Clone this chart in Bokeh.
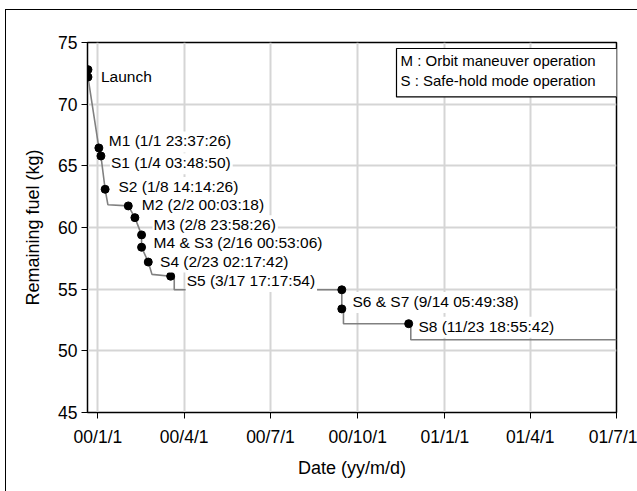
import pandas as pd
from bokeh.plotting import figure
from bokeh.models import ColumnDataSource, FixedTicker, Range1d, Label
from bokeh.core.properties import value
from bokeh.embed import file_html
from bokeh.resources import INLINE

EPOCH = pd.Timestamp("2000-01-01")

# ---- data ----
curve_dates = ["1999-12-21 12:00", "1999-12-21 12:00", "2000-01-01 23:37:26", "2000-01-04 03:48:50",
               "2000-01-08 14:14:26", "2000-01-11 12:00", "2000-02-02 00:03:18", "2000-02-08 23:58:26",
               "2000-02-16 00:53:06", "2000-02-16 00:53:06", "2000-02-23 02:17:42", "2000-02-27 00:00",
               "2000-03-17 17:17:54", "2000-03-21 12:00", "2000-03-21 12:00", "2000-09-14 05:49:38",
               "2000-09-14 05:49:38", "2000-09-16 00:00", "2000-09-16 00:00", "2000-11-23 18:55:42",
               "2000-11-26 00:00", "2000-11-26 00:00", "2001-07-01 00:00"]
curve_fuel = [72.8, 72.2, 66.45, 65.8, 63.1, 61.85, 61.75, 60.8, 59.4, 58.4, 57.2, 56.2,
              56.05, 56.05, 54.95, 54.95, 53.4, 53.4, 52.2, 52.2, 52.2, 50.9, 50.9]

event_names = ["Launch", "Launch", "M1", "S1", "S2", "M2", "M3", "M4", "S3", "S4", "S5", "S6", "S7", "S8"]
event_dates = ["1999-12-21 12:00", "1999-12-21 12:00", "2000-01-01 23:37:26", "2000-01-04 03:48:50",
               "2000-01-08 14:14:26", "2000-02-02 00:03:18", "2000-02-08 23:58:26", "2000-02-16 00:53:06",
               "2000-02-16 00:53:06", "2000-02-23 02:17:42", "2000-03-17 17:17:54", "2000-09-14 05:49:38",
               "2000-09-14 05:49:38", "2000-11-23 18:55:42"]
event_fuel = [72.8, 72.2, 66.45, 65.8, 63.1, 61.75, 60.8, 59.4, 58.4, 57.2, 56.05, 54.95, 53.4, 52.2]

label_texts = ["Launch", "M1 (1/1 23:37:26)", "S1 (1/4 03:48:50)", "S2 (1/8 14:14:26)",
               "M2 (2/2 00:03:18)", "M3 (2/8 23:58:26)", "M4 & S3 (2/16 00:53:06)",
               "S4 (2/23 02:17:42)", "S5 (3/17 17:17:54)", "S6 & S7 (9/14 05:49:38)",
               "S8 (11/23 18:55:42)"]
label_anchor = [1, 2, 3, 4, 5, 6, 8, 9, 10, 12, 13]

tick_dates = ["2000-01-01", "2000-04-01", "2000-07-01", "2000-10-01", "2001-01-01", "2001-04-01", "2001-07-01"]
tick_labels = ["00/1/1", "00/4/1", "00/7/1", "00/10/1", "01/1/1", "01/4/1", "01/7/1"]
y_ticks = [45, 50, 55, 60, 65, 70, 75]
legend_lines = ["M : Orbit maneuver operation", "S : Safe-hold mode operation"]

# ---- styles / layout ----
label_dx = [12, 9, 9, 12.4, 12.5, 17.6, 11, 10.8, 15, 9.6, 8.7]
label_dy = [0, -6, 7.7, -1.7, 0, 8, -4, 0, 5.3, -6.5, 3.5]


def to_days(ds):
    return [(pd.Timestamp(d) - EPOCH).total_seconds() / 86400.0 for d in ds]


curve_x = to_days(curve_dates)
event_x = to_days(event_dates)
tick_x = [int(round(v)) for v in to_days(tick_dates)]

FONT = "Liberation Sans"

p = figure(width=632, height=482, output_backend="svg", toolbar_location=None,
           x_range=Range1d(-11, tick_x[-1]), y_range=Range1d(45, 75),
           min_border_left=81, min_border_right=22, min_border_top=32, min_border_bottom=80)
p.margin = (9, 0, 0, 5)
p.styles = {"border-left": "1px solid black", "border-top": "1px solid black"}
p.background_fill_color = "white"
p.border_fill_color = "white"
p.outline_line_color = "black"
p.outline_line_width = 1.5

x_ticker = FixedTicker(ticks=tick_x)
y_ticker = FixedTicker(ticks=y_ticks)
p.xaxis.ticker = x_ticker
p.xaxis.major_label_overrides = {t: l for t, l in zip(tick_x, tick_labels)}
p.yaxis.ticker = y_ticker
p.xaxis.axis_label = "Date (yy/m/d)"
p.yaxis.axis_label = "Remaining fuel (kg)"
for ax in (p.xaxis, p.yaxis):
    ax.axis_line_color = "black"
    ax.major_tick_line_color = "black"
    ax.major_tick_out = 6
    ax.major_tick_in = 0
    ax.minor_tick_line_color = None
    ax.major_label_text_font = FONT
    ax.major_label_text_font_size = "17.5px"
    ax.major_label_text_color = "black"
    ax.axis_label_text_font = FONT
    ax.axis_label_text_font_size = "18px"
    ax.axis_label_text_font_style = "normal"
    ax.axis_label_text_color = "black"
p.xaxis.major_label_standoff = 8
p.xaxis.axis_label_standoff = 8
p.yaxis.major_label_standoff = 4
p.yaxis.axis_label_standoff = 12

p.xgrid.ticker = x_ticker
p.ygrid.ticker = y_ticker
for g in (p.xgrid, p.ygrid):
    g.grid_line_color = "#d5d5d5"
    g.grid_line_width = 2
    g.grid_line_alpha = 1.0

p.line(curve_x, curve_fuel, line_color="#808080", line_width=1.6)
p.scatter(event_x, event_fuel, size=8, marker="circle", fill_color="black", line_color="black")

lab_src = ColumnDataSource(dict(
    x=[event_x[i] for i in label_anchor],
    y=[event_fuel[i] for i in label_anchor],
    text=label_texts, dx=label_dx, dy=label_dy))
p.text(x="x", y="y", text="text", x_offset="dx", y_offset="dy", source=lab_src,
       text_font=value(FONT), text_font_size="15.5px", text_align="left",
       text_baseline="middle", text_color="black",
       background_fill_color="white", padding=dict(left=1, right=2, top=1, bottom=3))

leg = Label(x=tick_x[-1], y=75, x_units="data", y_units="data",
            x_offset=-220, y_offset=-6, text="\n".join(legend_lines),
            text_font=FONT, text_font_size="15px", text_align="left", text_baseline="top",
            text_color="black", border_line_color="black", border_line_width=1.2,
            background_fill_color="white",
            padding=dict(left=4, right=38, top=3, bottom=8))
p.add_layout(leg)

open("out.html", "w").write(file_html(p, INLINE))
